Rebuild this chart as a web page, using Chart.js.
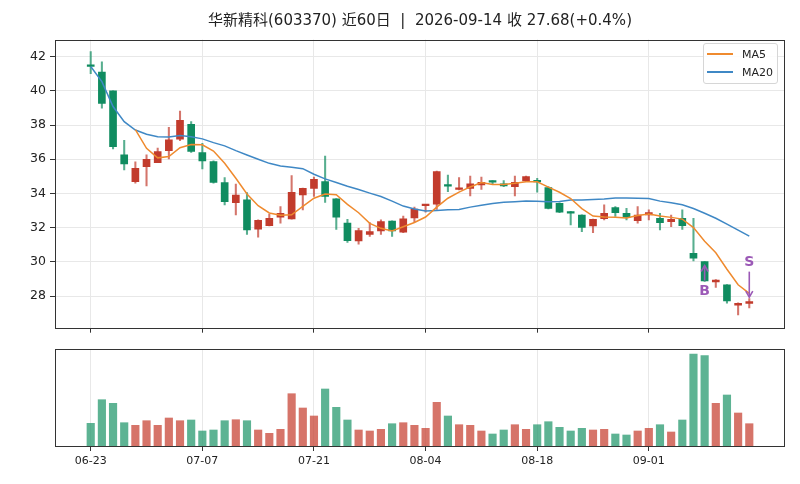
<!DOCTYPE html>
<html>
<head>
<meta charset="utf-8">
<script src="https://cdn.jsdelivr.net/npm/chart.js@4.4.0/dist/chart.umd.min.js"></script>
<style>
html,body{margin:0;padding:0;background:#fff;}
#wrap{position:relative;width:800px;height:484px;overflow:hidden;}
#title{position:absolute;left:0;width:840px;top:10px;line-height:20px;text-align:center;font-size:15px;font-family:'DejaVu Sans','Noto Sans CJK SC',sans-serif;color:#222;white-space:pre;}
#c1{position:absolute;left:0;top:0;}
#c2{position:absolute;left:0;top:336px;}
#legend{position:absolute;left:703px;top:43px;width:73px;height:39px;border:1px solid #d6d6d6;border-radius:3px;background:rgba(255,255,255,0.85);font:11px 'DejaVu Sans',sans-serif;color:#222;}
.row{position:absolute;left:3px;height:14px;line-height:14px;}
.sw{display:inline-block;width:26px;height:2px;vertical-align:middle;margin-right:9px;position:relative;top:-1px;}
</style>
</head>
<body>
<div id="wrap">
  <canvas id="c1" width="800" height="340"></canvas>
  <canvas id="c2" width="800" height="148"></canvas>
  <div id="title">华新精科(603370) 近60日  |  2026-09-14 收 27.68(+0.4%)</div>
  <div id="legend">
    <div class="row" style="top:3.5px"><span class="sw" style="background:#ef8a2e"></span>MA5</div>
    <div class="row" style="top:21.5px"><span class="sw" style="background:#3f88c5"></span>MA20</div>
  </div>
</div>
<script>
// ---- data ----
const dates = ['06-23','06-24','06-25','06-26','06-29','06-30',
'07-01','07-02','07-03','07-06','07-07','07-08','07-09','07-10','07-13','07-14','07-15','07-16','07-17','07-20','07-21','07-22','07-23','07-24','07-27','07-28','07-29','07-30','07-31',
'08-03','08-04','08-05','08-06','08-07','08-10','08-11','08-12','08-13','08-14','08-17','08-18','08-19','08-20','08-21','08-24','08-25','08-26','08-27','08-28','08-31',
'09-01','09-02','09-03','09-04','09-07','09-08','09-09','09-10','09-11','09-14'];
const opens = [41.5,41.1,40.0,36.25,34.69,35.57,35.8,36.5,37.17,38.04,
36.39,35.86,34.63,33.46,33.62,31.91,32.12,32.61,32.51,33.91,
34.3,34.69,33.68,32.26,31.22,31.61,31.81,32.39,31.73,32.57,
33.28,33.37,34.5,34.24,34.3,34.5,34.7,34.56,34.4,34.73,
34.75,34.34,33.42,32.94,32.74,32.1,32.53,33.17,32.84,32.41,
32.74,32.55,32.35,32.55,30.5,30.01,28.82,28.65,27.46,27.57];
const highs = [42.3,41.7,40.0,37.1,35.85,36.25,36.65,37.87,38.82,38.2,
36.93,35.9,34.92,34.55,34.05,32.45,32.8,33.23,35.04,34.32,
34.95,36.19,33.7,32.49,31.96,32.3,32.45,32.4,32.68,33.2,
33.35,35.3,35.08,34.93,35.02,34.95,34.75,34.75,35.02,35.02,
34.89,34.4,33.45,32.96,32.75,32.5,33.33,33.23,33.13,33.23,
33.04,32.84,32.74,33.04,32.55,30.02,28.96,28.67,27.6,27.85];
const lows = [41.0,38.98,36.6,35.37,34.6,34.44,35.8,36.02,37.09,36.4,
35.43,34.6,33.33,32.74,31.6,31.44,32.1,32.26,32.5,33.04,
33.82,33.48,31.9,31.13,31.03,31.48,31.61,31.48,31.7,32.35,
32.9,33.07,34.11,34.2,33.85,34.24,34.56,34.4,33.85,34.69,
34.07,33.1,32.88,32.16,31.77,31.71,32.45,32.65,32.45,32.26,
32.45,31.87,32.06,31.9,30.05,28.85,28.51,27.58,26.9,27.3];
const closes = [41.42,39.27,36.74,35.73,35.47,36.0,36.45,37.13,38.28,36.45,
35.9,34.65,33.52,33.91,31.87,32.43,32.55,32.84,34.07,34.3,
34.83,33.82,32.61,31.24,31.83,31.77,32.35,31.81,32.51,33.08,
33.33,35.28,34.42,34.3,34.56,34.65,34.66,34.44,34.65,34.98,
34.67,33.13,32.9,32.84,32.02,32.49,32.84,32.88,32.61,32.74,
32.88,32.29,32.49,32.12,30.21,28.88,28.94,27.71,27.58,27.68];
const ma5 = [null,null,null,null,37.73,36.64,36.08,36.16,36.67,36.86,
36.84,36.48,35.76,34.89,33.97,33.28,32.86,32.72,32.75,33.24,
33.72,33.97,33.93,33.36,32.87,32.25,31.96,31.8,32.05,32.3,
32.62,33.2,33.72,34.08,34.38,34.64,34.52,34.52,34.59,34.68,
34.68,34.37,34.07,33.7,33.11,32.68,32.62,32.61,32.57,32.71,
32.79,32.68,32.6,32.5,32.0,31.2,30.53,29.57,28.66,28.16];
const ma20 = [41.42,40.54,39.08,38.2,37.71,37.46,37.32,37.3,37.38,37.32,
37.19,36.97,36.78,36.5,36.25,36.0,35.76,35.6,35.53,35.45,
35.12,34.85,34.64,34.42,34.23,34.02,33.82,33.55,33.26,33.09,
32.97,33.0,33.04,33.06,33.2,33.31,33.41,33.49,33.52,33.56,
33.55,33.51,33.53,33.61,33.62,33.65,33.68,33.73,33.74,33.72,
33.7,33.55,33.45,33.34,33.12,32.84,32.55,32.21,31.86,31.5];
const volumes = [22.7,46.3,42.7,23.3,20.7,25.3,20.7,28,25.3,26,
15,16,25.3,26.3,25.3,16,12.7,16.7,52.3,38,
30,57,38.7,26,16,15,16.7,22.3,23.3,20.7,
17.7,43.7,30,21.3,20.7,15,12,16,21.3,16.7,
21.3,24.3,18.7,15,17.7,16,16.7,12,11,15,
17.7,21.3,14,26,92,90.3,42.7,51,33,22.3];
const tickIdx = [0,10,20,30,40,50];
const priceTicks = [28,30,32,34,36,38,40,42];
const signals = [{i:55,type:'B'},{i:59,type:'S'}];

// ---- styles ----
const UP='#c23b2c', DN='#108c60';
const UPW='rgba(194,59,44,0.7)', DNW='rgba(16,140,96,0.7)';
const UPV='rgba(200,70,55,0.75)', DNV='rgba(30,150,105,0.72)';
const GRID='#e8e8e8', AX='#333';
const xMin=-3.2, xMax=62.2;
const isUp = opens.map((o,i)=>closes[i]>=o);

const framePlugin = {
  id:'frame',
  afterDraw(chart){
    const {ctx,chartArea:a}=chart;
    ctx.save();
    ctx.strokeStyle=AX; ctx.lineWidth=1;
    ctx.strokeRect(Math.round(a.left)+0.5,Math.round(a.top)+0.5,Math.round(a.right-a.left)-1,Math.round(a.bottom-a.top));
    ctx.restore();
  }
};

const signalPlugin = {
  id:'signals',
  afterDatasetsDraw(chart){
    const {ctx,scales}=chart;
    ctx.save();
    ctx.strokeStyle='#9b59b6'; ctx.fillStyle='#9b59b6'; ctx.lineWidth=1.6;
    ctx.font='bold 14px "DejaVu Sans", sans-serif';
    ctx.textAlign='center'; ctx.textBaseline='middle';
    signals.forEach(s=>{
      const x=scales.x.getPixelForValue(s.i);
      if(s.type==='B'){
        const yl=scales.y.getPixelForValue(lows[s.i]);
        const tail=yl-1, head=yl-16;
        ctx.beginPath(); ctx.moveTo(x,tail); ctx.lineTo(x,head); ctx.stroke();
        ctx.beginPath(); ctx.moveTo(x-3.5,head+6); ctx.lineTo(x,head); ctx.lineTo(x+3.5,head+6); ctx.stroke();
        ctx.fillText('B',x,yl+10);
      } else {
        const yh=scales.y.getPixelForValue(highs[s.i]);
        const head=yh-1.5, tail=yh-27;
        ctx.beginPath(); ctx.moveTo(x,tail); ctx.lineTo(x,head); ctx.stroke();
        ctx.beginPath(); ctx.moveTo(x-3.5,head-6); ctx.lineTo(x,head); ctx.lineTo(x+3.5,head-6); ctx.stroke();
        ctx.fillText('S',x,yh-36);
      }
    });
    ctx.restore();
  }
};

const xTicks = s=>{ s.ticks = tickIdx.map(v=>({value:v})); };

new Chart(document.getElementById('c1'),{
  type:'bar',
  data:{datasets:[
    {type:'line',label:'MA5',data:ma5.map((v,i)=>({x:i,y:v})),borderColor:'#ef8a2e',borderWidth:1.5,pointRadius:0,tension:0,order:0},
    {type:'line',label:'MA20',data:ma20.map((v,i)=>({x:i,y:v})),borderColor:'#3f88c5',borderWidth:1.5,pointRadius:0,tension:0,order:0},
    {type:'bar',label:'body',data:opens.map((o,i)=>({x:i,y:[o,closes[i]]})),backgroundColor:isUp.map(u=>u?UP:DN),barThickness:7,minBarLength:1.6,grouped:false,order:1},
    {type:'bar',label:'wick',data:lows.map((l,i)=>({x:i,y:[l,highs[i]]})),backgroundColor:isUp.map(u=>u?UPW:DNW),barThickness:1.4,grouped:false,order:2}
  ]},
  options:{
    responsive:false,animation:false,
    layout:{padding:{left:0,right:15,top:39.5,bottom:6.3}},
    plugins:{legend:{display:false},tooltip:{enabled:false},title:{display:false}},
    scales:{
      x:{type:'linear',min:xMin,max:xMax,offset:false,afterBuildTicks:xTicks,
         ticks:{display:false},
         grid:{color:GRID,tickColor:AX,tickLength:5,drawTicks:true,lineWidth:1,offset:false},
         border:{display:false},
         afterFit:s=>{s.height=6;}},
      y:{type:'linear',min:26.15,max:43.0,
         afterBuildTicks:s=>{s.ticks=priceTicks.map(v=>({value:v}));},
         ticks:{font:{family:'DejaVu Sans',size:12.5},color:'#222',padding:4},
         grid:{color:GRID,tickColor:AX,tickLength:5,lineWidth:1},
         border:{display:false},
         afterFit:s=>{s.width=55;}}
    }
  },
  plugins:[framePlugin,signalPlugin]
});

new Chart(document.getElementById('c2'),{
  type:'bar',
  data:{datasets:[
    {label:'volume',data:volumes.map((v,i)=>({x:i,y:v})),backgroundColor:isUp.map(u=>u?UPV:DNV),barThickness:7.5,grouped:false}
  ]},
  options:{
    responsive:false,animation:false,
    layout:{padding:{left:0,right:15,top:13,bottom:0}},
    plugins:{legend:{display:false},tooltip:{enabled:false}},
    scales:{
      x:{type:'linear',min:xMin,max:xMax,offset:false,afterBuildTicks:xTicks,
         ticks:{font:{family:'DejaVu Sans',size:11},color:'#222',padding:4,maxRotation:0,autoSkip:false,
                callback:v=>dates[v]},
         grid:{color:GRID,tickColor:AX,tickLength:5,lineWidth:1,offset:false},
         border:{display:false},
         afterFit:s=>{s.height=38;}},
      y:{type:'linear',min:0,max:97,
         ticks:{display:false},grid:{display:false},border:{display:false},
         afterFit:s=>{s.width=55;}}
    }
  },
  plugins:[framePlugin]
});
</script>
</body>
</html>
